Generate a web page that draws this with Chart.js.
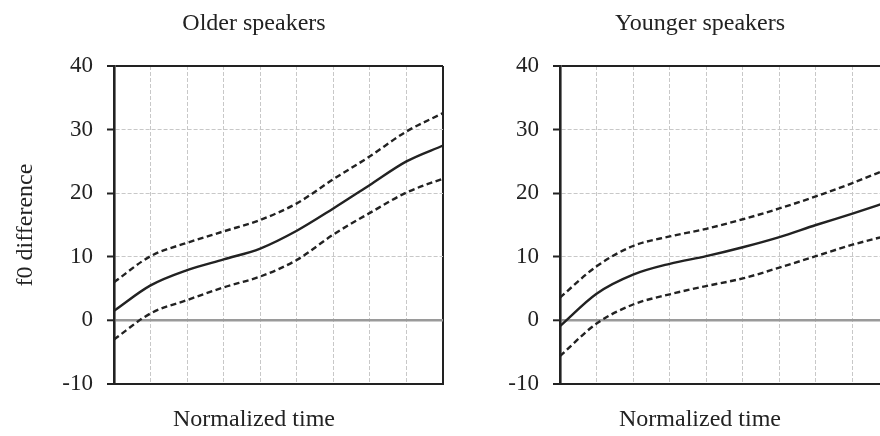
<!DOCTYPE html>
<html>
<head>
<meta charset="utf-8">
<script src="https://cdn.jsdelivr.net/npm/chart.js@4.4.0/dist/chart.umd.min.js"></script>
<style>
  html, body { margin: 0; padding: 0; width: 880px; height: 436px; overflow: hidden; background: #fff; }
  canvas { position: absolute; top: 0; }
  #older-chart { left: 0; }
  #younger-chart { left: 446px; }
</style>
</head>
<body>
<canvas id="older-chart" width="508" height="436"></canvas>
<canvas id="younger-chart" width="508" height="436"></canvas>
<script>
// normalized time steps (10 samples, 9 intervals)
const timeSteps = ['0', '1', '2', '3', '4', '5', '6', '7', '8', '9'];
const yTicks = [-10, 0, 10, 20, 30, 40];

// older speakers: mean f0 difference with upper/lower confidence bands
const olderMean  = [1.5, 5.5, 7.9, 9.6, 11.3, 14.1, 17.6, 21.3, 25.0, 27.5];
const olderUpper = [6.0, 10.1, 12.2, 14.0, 15.8, 18.4, 22.2, 25.8, 29.7, 32.6];
const olderLower = [-3.0, 1.1, 3.2, 5.2, 6.9, 9.5, 13.5, 16.9, 20.1, 22.3];

// younger speakers
const youngerMean  = [-0.9, 4.2, 7.2, 8.9, 10.1, 11.5, 13.1, 15.0, 16.8, 18.7];
const youngerUpper = [3.6, 8.5, 11.7, 13.2, 14.4, 15.9, 17.6, 19.5, 21.6, 23.9];
const youngerLower = [-5.6, -0.5, 2.5, 4.1, 5.4, 6.6, 8.3, 10.1, 11.9, 13.4];

const serif = '"Liberation Serif", "Times New Roman", serif';
const ink = '#222';
const gridGrey = '#c8c8c8';

const lineSet = (data, dashed) => ({
    data: data,
    borderColor: ink,
    borderWidth: 2.4,
    borderDash: dashed ? [6, 3.5] : [],
    pointRadius: 0,
    fill: false,
    cubicInterpolationMode: 'monotone'
});

const makeChart = (id, title, mean, upper, lower, showYTitle) => {
    const ctx = document.getElementById(id).getContext('2d');
    const lastStep = timeSteps.length - 1;
    const yMax = yTicks[yTicks.length - 1];

    return new Chart(ctx, {
        type: 'line',
        data: {
            labels: timeSteps,
            datasets: [lineSet(upper, true), lineSet(mean, false), lineSet(lower, true)]
        },
        options: {
            responsive: false,
            animation: false,
            layout: { padding: 0 },
            plugins: {
                legend: { display: false },
                tooltip: { enabled: false },
                title: {
                    display: true,
                    text: title,
                    color: ink,
                    font: { family: serif, size: 24, weight: 'normal' },
                    padding: { top: 9.6, bottom: 27.6 }
                },
                subtitle: {
                    display: true,
                    position: 'bottom',
                    text: 'Normalized time',
                    color: ink,
                    font: { family: serif, size: 24, weight: 'normal' },
                    padding: { top: 11.6, bottom: 1.6 }
                }
            },
            scales: {
                x: {
                    type: 'category',
                    offset: false,
                    ticks: { display: false },
                    grid: {
                        drawTicks: false,
                        color: c => c.index === lastStep ? ink : (c.index === 0 ? 'rgba(0,0,0,0)' : gridGrey),
                        lineWidth: c => c.index === lastStep ? 2 : 1
                    },
                    border: {
                        display: true,
                        color: ink,
                        width: 2,
                        dash: c => c.index === lastStep ? [] : [4, 2]
                    },
                    afterFit: scale => { scale.height = 10; }
                },
                y: {
                    min: yTicks[0],
                    max: yMax,
                    ticks: {
                        stepSize: 10,
                        padding: 14,
                        color: ink,
                        font: { family: serif, size: 23 }
                    },
                    grid: {
                        tickLength: 7,
                        tickWidth: 2,
                        tickColor: ink,
                        tickBorderDash: [],
                        color: c => {
                            const v = c.tick.value;
                            if (v === yMax || v === yTicks[0]) return ink;
                            if (v === 0) return '#9a9a9a';
                            return gridGrey;
                        },
                        lineWidth: c => {
                            const v = c.tick.value;
                            if (v === 0) return 2.6;
                            if (v === yMax || v === yTicks[0]) return 2;
                            return 1;
                        }
                    },
                    border: {
                        display: true,
                        color: ink,
                        width: 2.6,
                        dash: c => {
                            const v = c.tick.value;
                            return (v === 0 || v === yMax || v === yTicks[0]) ? [] : [4, 2];
                        }
                    },
                    title: {
                        display: showYTitle,
                        text: 'f0 difference',
                        color: ink,
                        font: { family: serif, size: 24 },
                        padding: { top: 11.6, bottom: 0 }
                    },
                    afterFit: scale => { scale.width = 114; }
                },
                // empty right-hand axis keeps space so the titles centre over the whole panel
                spacer: {
                    type: 'linear',
                    position: 'right',
                    display: true,
                    ticks: { display: false },
                    grid: { drawOnChartArea: false, drawTicks: false },
                    border: { display: false },
                    afterFit: scale => { scale.width = 65; }
                }
            }
        }
    });
};

makeChart('older-chart', 'Older speakers', olderMean, olderUpper, olderLower, true);
makeChart('younger-chart', 'Younger speakers', youngerMean, youngerUpper, youngerLower, false);
</script>
</body>
</html>
